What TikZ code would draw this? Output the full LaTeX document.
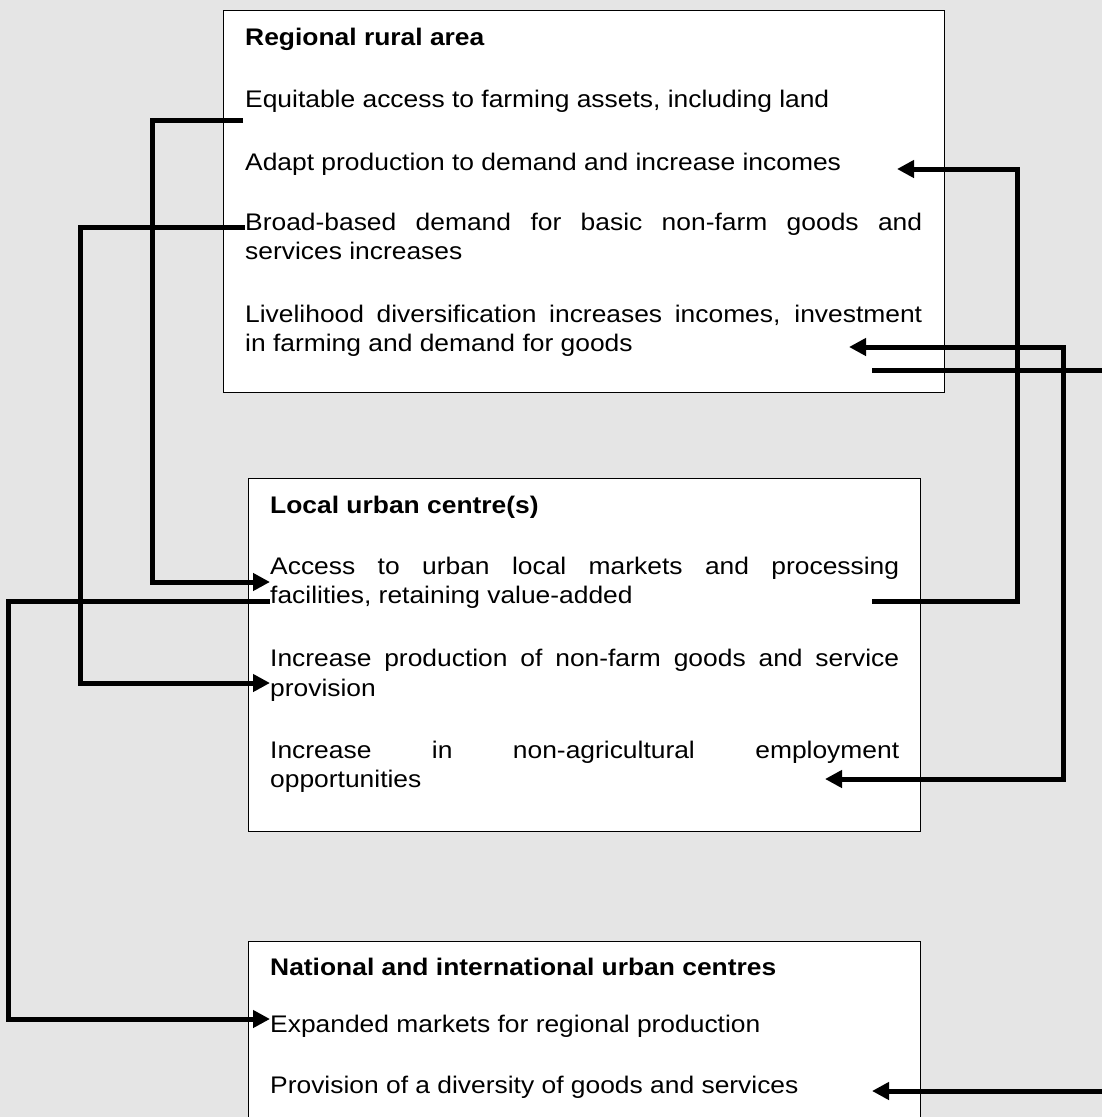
\documentclass[tikz,border=0pt]{standalone}
\usepackage{fontspec}
\setmainfont{Liberation Sans}[FakeStretch=1.1]
\usetikzlibrary{arrows.meta}
\definecolor{bgc}{RGB}{229,229,229}
\begin{document}
\begin{tikzpicture}[x=1pt,y=-1pt,
  txt/.style={anchor=base west, inner sep=0pt, font=\fontsize{24}{29}\selectfont},
  hdr/.style={anchor=base west, inner sep=0pt, font=\fontsize{24}{29}\selectfont\bfseries},
  box/.style={draw=black, line width=1.3pt, fill=white, anchor=north west, inner sep=0pt},
  conn/.style={line width=5pt, black},
  tip/.style={-{Triangle[length=17pt,width=17pt]}},
  dtip/.style={{Triangle[length=17pt,width=17pt]}-{Triangle[length=17pt,width=17pt]}}]
\fill[bgc] (0,0) rectangle (1102,1117);
\useasboundingbox (0,0) rectangle (1102,1117);
\clip (0,0) rectangle (1102,1117);

% boxes
\node[box, minimum width=721pt, minimum height=382pt] (rural) at (223,10) {};
\node[box, minimum width=672pt, minimum height=353pt] (local) at (248,478) {};
\node[box, minimum width=672pt, minimum height=240pt] (natl) at (248,941) {};

% box 1 text
\node[hdr] (h1) at (245,45) {Regional rural area};
\node[txt] (t1) at (245,107) {Equitable access to farming assets, including land};
\node[txt] (t2) at (245,170) {Adapt production to demand and increase incomes};
\node[txt] (t3a) at (245,230) {\makebox[677pt][s]{Broad-based demand for basic non-farm goods and}};
\node[txt] (t3b) at (245,259) {services increases};
\node[txt] (t4a) at (245,322) {\makebox[677pt][s]{Livelihood diversification increases incomes, investment}};
\node[txt] (t4b) at (245,351) {in farming and demand for goods};

% box 2 text
\node[hdr] (h2) at (270,513) {Local urban centre(s)};
\node[txt] (u1a) at (270,574) {\makebox[629pt][s]{Access to urban local markets and processing}};
\node[txt] (u1b) at (270,603) {facilities, retaining value-added};
\node[txt] (u2a) at (270,666) {\makebox[629pt][s]{Increase production of non-farm goods and service}};
\node[txt] (u2b) at (270,696) {provision};
\node[txt] (u3a) at (270,758) {\makebox[629pt][s]{Increase in non-agricultural employment}};
\node[txt] (u3b) at (270,787) {opportunities};

% box 3 text
\node[hdr] (h3) at (270,975) {National and international urban centres};
\node[txt] (n1) at (270,1032) {Expanded markets for regional production};
\node[txt] (n2) at (270,1093) {Provision of a diversity of goods and services};

% connector end points
\coordinate (a0) at (243,120);  \coordinate (a1) at (270,582);
\coordinate (b0) at (245,227);  \coordinate (b1) at (270,683);
\coordinate (c0) at (270,601);  \coordinate (c1) at (270,1019);
\coordinate (d0) at (872,601);  \coordinate (d1) at (897,169);
\coordinate (e0) at (872,370);  \coordinate (e1) at (1110,370);
\coordinate (f0) at (849,347);  \coordinate (f1) at (825,779);
\coordinate (g0) at (1110,1091); \coordinate (g1) at (872,1091);

% connectors
\draw[conn,tip] (a0) -- ++(-91,0) |- (a1);
\draw[conn,tip] (b0) -- ++(-165,0) |- (b1);
\draw[conn,tip] (c0) -- ++(-262,0) |- (c1);
\draw[conn,tip] (d0) -- ++(145,0) |- (d1);
\draw[conn] (e0) -- (e1);
\draw[conn,dtip] (f0) -- ++(214,0) |- (f1);
\draw[conn,tip] (g0) -- (g1);
\end{tikzpicture}
\end{document}
